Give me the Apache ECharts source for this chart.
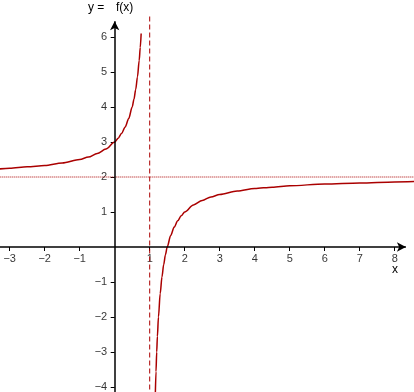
<!DOCTYPE html>
<html>
<head>
<meta charset="utf-8">
<script src="https://cdn.jsdelivr.net/npm/echarts@6/dist/echarts.min.js"></script>
<style>
  html,body{margin:0;padding:0;background:#fff;}
  #chart{width:414px;height:392px;}
</style>
</head>
<body>
<div id="chart"></div>
<script>
"use strict";

// points, left branch (x < 1)
var leftX=[-3.3,-3,-2.5,-2,-1.5,-1,-0.75,-0.5,-0.25,0,0.1,0.2,0.3,0.4,0.5,0.55,0.6,0.65,0.7,0.73,0.756];
var leftY=[2.23,2.25,2.29,2.33,2.4,2.5,2.57,2.67,2.8,3,3.11,3.25,3.43,3.67,4,4.22,4.5,4.86,5.33,5.7,6.1];
// right branch (x > 1)
var rightX=[1.16,1.18,1.2,1.22,1.25,1.3,1.35,1.4,1.45,1.5,1.6,1.7,1.8,1.9,2,2.25,2.5,2.75,3,3.5,4,4.5,5,6,7,8,8.6];
var rightY=[-4.25,-3.56,-3,-2.55,-2,-1.33,-0.86,-0.5,-0.22,0,0.33,0.57,0.75,0.89,1,1.2,1.33,1.43,1.5,1.6,1.67,1.71,1.75,1.8,1.83,1.86,1.87];

var vAsym=1;     // dashed line
var hAsym=2;     // dotted line
var xTickLabels=[-3,-2,-1,1,2,3,4,5,6,7,8];
var yTickLabels=[-4,-3,-2,-1,1,2,3,4,5,6];

var RED='#aa0000';
var FONT='Liberation Sans';

function pairs(xs,ys){
  var out=[];
  for (var i=0;i<xs.length;i++) out.push([xs[i],ys[i]]);
  return out;
}
function minus(v){
  return (v<0)?'\u2212'+Math.abs(v):String(v);
}
function arrowSeg(a,b){
  return [{coord:a,symbol:'none'},{coord:b,symbol:'arrow',symbolSize:[7,9]}];
}

var chart=echarts.init(document.getElementById('chart'),null,{renderer:'canvas'});

var opt={
  animation:false,
  backgroundColor:'#fff',
  grid:{left:-25.3,right:-15.7,top:-33,bottom:-30,containLabel:false,outerBoundsMode:'none'},
  xAxis:{
    type:'value',min:-4,max:9,interval:1,
    axisLine:{show:true,onZero:true,lineStyle:{color:'rgba(0,0,0,0)'}},
    axisTick:{show:true,length:4,customValues:xTickLabels,lineStyle:{color:'#000',width:1}},
    axisLabel:{show:false},
    splitLine:{show:false}
  },
  yAxis:{
    type:'value',min:-5,max:8,interval:1,
    axisLine:{show:true,onZero:true,lineStyle:{color:'rgba(0,0,0,0)'}},
    axisTick:{show:true,length:4,customValues:yTickLabels,lineStyle:{color:'#000',width:1}},
    axisLabel:{show:false},
    splitLine:{show:false}
  },
  series:[
    {
      // horizontal asymptote
      type:'line',silent:true,showSymbol:false,
      data:[[-3.4,hAsym],[8.7,hAsym]],
      lineStyle:{color:RED,type:[1,1],width:1}
    },
    {
      // vertical asymptote
      type:'line',silent:true,showSymbol:false,
      data:[[vAsym,-4.3],[vAsym,6.63]],
      lineStyle:{color:RED,type:[5,3],width:1}
    },
    {
      // axes with arrows
      type:'line',data:[],silent:true,
      markLine:{
        silent:true,animation:false,
        label:{show:false},
        emphasis:{disabled:true},
        lineStyle:{color:'#000',type:'solid',width:1.5},
        data:[
          arrowSeg([-3.4,0],[8.32,0]),
          arrowSeg([0,-4.3],[0,6.45])
        ]
      }
    },
    {
      type:'line',data:pairs(leftX,leftY),showSymbol:false,
      smooth:0.3,smoothMonotone:'x',
      lineStyle:{color:RED,width:1.5},silent:true
    },
    {
      type:'line',data:pairs(rightX,rightY),showSymbol:false,
      smooth:0.3,smoothMonotone:'x',
      lineStyle:{color:RED,width:1.5},silent:true
    },
    {
      // x tick labels
      type:'scatter',silent:true,symbolSize:1,itemStyle:{color:'rgba(0,0,0,0)'},
      data:xTickLabels.map(function(v){return [v,0];}),
      label:{show:true,position:'bottom',distance:6,color:'#000',fontFamily:FONT,fontSize:11,
        formatter:function(p){return minus(p.value[0]);}}
    },
    {
      // y tick labels
      type:'scatter',silent:true,symbolSize:1,itemStyle:{color:'rgba(0,0,0,0)'},
      data:yTickLabels.map(function(v){return [0,v];}),
      label:{show:true,position:'left',distance:7,color:'#000',fontFamily:FONT,fontSize:11,
        formatter:function(p){return minus(p.value[1]);}}
    }
  ],
  graphic:[
    {type:'text',left:88,top:2,style:{text:'y =',fill:'#000',font:'12px '+FONT}},
    {type:'text',left:116,top:2,style:{text:'f(x)',fill:'#000',font:'12px '+FONT}},
    {type:'text',left:392,top:264,style:{text:'x',fill:'#000',font:'12px '+FONT}}
  ]
};

chart.setOption(opt);
</script>
</body>
</html>
